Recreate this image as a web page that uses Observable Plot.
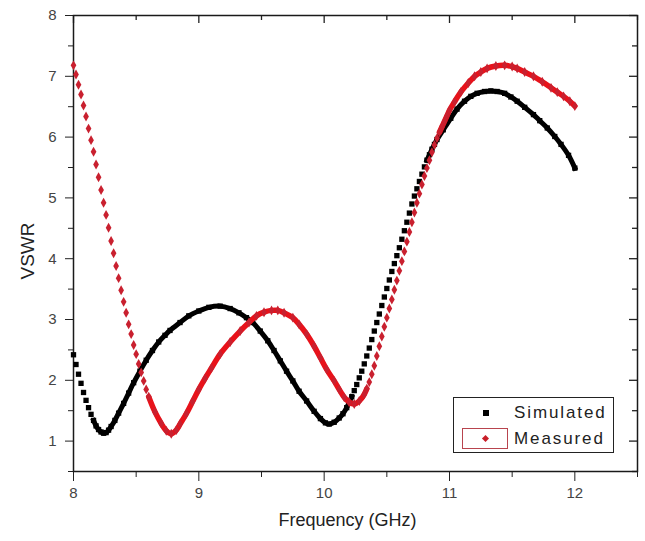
<!DOCTYPE html>
<html>
<head>
<meta charset="utf-8">
<script src="https://cdn.jsdelivr.net/npm/d3@7"></script>
<script src="https://cdn.jsdelivr.net/npm/@observablehq/plot@0.6"></script>
<style>
  html, body { margin: 0; padding: 0; background: #fff; }
  #wrap { position: relative; width: 645px; height: 541px; font-family: "Liberation Sans", Arial, sans-serif; }
  #legend { position: absolute; left: 453px; top: 397px; width: 161px; height: 56px; box-sizing: border-box;
            border: 1.5px solid #222; background: #fff; }
  .row { position: absolute; left: 0; height: 26px; width: 100%; }
  .lab { position: absolute; left: 60px; font-size: 17px; letter-spacing: 1.9px; color: #222; line-height: 26px; }
  .sq { position: absolute; left: 29px; top: 10px; width: 6px; height: 6px; background: #000; }
  .rbox { position: absolute; left: 8px; top: 2px; width: 46px; height: 21px; box-sizing: border-box; border: 1.3px solid #b8444e; }
  .dm { position: absolute; left: 29px; top: 10px; width: 5px; height: 5px; background: #c81e28; transform: rotate(45deg); }
</style>
</head>
<body>
<div id="wrap"></div>
<script>
// ---- data ----
const simFreq = [8.00,8.02,8.04,8.06,8.08,8.10,8.12,8.14,8.16,8.18,8.20,8.22,8.24,8.26,8.28,8.30,8.33,8.36,8.40,8.44,8.48,8.53,8.58,8.63,8.68,8.73,8.77,8.85,8.92,9.00,9.08,9.17,9.25,9.32,9.38,9.43,9.49,9.55,9.60,9.65,9.70,9.75,9.80,9.86,9.92,9.97,10.01,10.04,10.08,10.12,10.15,10.18,10.20,10.22,10.24,10.26,10.28,10.30,10.32,10.34,10.36,10.38,10.40,10.42,10.44,10.46,10.48,10.50,10.52,10.54,10.56,10.58,10.60,10.62,10.64,10.66,10.68,10.70,10.72,10.74,10.76,10.78,10.80,10.82,10.84,10.86,10.88,10.90,10.95,11.01,11.06,11.12,11.17,11.22,11.28,11.33,11.38,11.44,11.49,11.54,11.60,11.67,11.72,11.78,11.84,11.89,11.95,12.00];
const simVswr = [2.42,2.26,2.10,1.95,1.80,1.67,1.55,1.44,1.34,1.25,1.19,1.15,1.13,1.14,1.18,1.24,1.34,1.46,1.62,1.79,1.96,2.15,2.33,2.49,2.63,2.74,2.82,2.95,3.06,3.14,3.20,3.22,3.18,3.11,3.03,2.95,2.81,2.65,2.49,2.32,2.15,1.99,1.82,1.66,1.49,1.37,1.30,1.28,1.31,1.38,1.45,1.55,1.64,1.73,1.83,1.93,2.04,2.15,2.27,2.40,2.53,2.67,2.81,2.95,3.09,3.23,3.37,3.51,3.65,3.79,3.92,4.05,4.18,4.32,4.46,4.60,4.75,4.90,5.03,5.15,5.27,5.39,5.51,5.62,5.71,5.80,5.88,5.96,6.12,6.31,6.46,6.59,6.67,6.72,6.75,6.76,6.75,6.72,6.66,6.59,6.49,6.37,6.27,6.15,6.01,5.88,5.70,5.49];

const measFreq = [8.00,8.02,8.04,8.06,8.08,8.10,8.12,8.14,8.16,8.18,8.20,8.22,8.24,8.26,8.28,8.30,8.32,8.34,8.36,8.38,8.40,8.42,8.44,8.46,8.48,8.50,8.52,8.54,8.56,8.58,8.60,8.65,8.70,8.74,8.78,8.82,8.85,8.90,8.95,9.00,9.05,9.10,9.17,9.25,9.33,9.40,9.46,9.52,9.58,9.63,9.68,9.75,9.80,9.86,9.92,9.97,10.02,10.08,10.12,10.16,10.20,10.24,10.28,10.32,10.34,10.36,10.38,10.40,10.42,10.44,10.46,10.48,10.50,10.52,10.54,10.56,10.58,10.60,10.62,10.64,10.66,10.68,10.70,10.72,10.74,10.76,10.78,10.80,10.82,10.84,10.86,10.88,10.90,10.92,10.94,10.96,10.98,11.00,11.04,11.09,11.15,11.20,11.25,11.30,11.37,11.44,11.50,11.54,11.60,11.67,11.74,11.81,11.86,11.91,11.96,12.00];
const measVswr = [7.18,7.03,6.86,6.70,6.52,6.34,6.14,5.95,5.76,5.55,5.34,5.13,4.92,4.72,4.51,4.29,4.09,3.88,3.68,3.48,3.29,3.11,2.92,2.76,2.58,2.43,2.27,2.13,1.99,1.85,1.73,1.48,1.29,1.17,1.12,1.18,1.28,1.45,1.65,1.85,2.03,2.20,2.43,2.63,2.81,2.95,3.06,3.12,3.15,3.15,3.11,3.03,2.92,2.76,2.56,2.37,2.18,1.99,1.85,1.72,1.64,1.61,1.66,1.77,1.86,1.97,2.10,2.24,2.40,2.56,2.72,2.88,3.03,3.18,3.33,3.49,3.64,3.80,3.96,4.12,4.28,4.44,4.60,4.76,4.92,5.07,5.22,5.36,5.49,5.62,5.75,5.87,5.98,6.08,6.17,6.26,6.35,6.44,6.58,6.74,6.89,7.00,7.07,7.13,7.17,7.18,7.16,7.13,7.07,7.00,6.91,6.81,6.74,6.67,6.59,6.51];

const seriesNames = ["Simulated", "Measured"];
const xTicks = [8, 9, 10, 11, 12];
const xMinorTicks = [8.5, 9.5, 10.5, 11.5, 12.5];
const yTicks = [1, 2, 3, 4, 5, 6, 7, 8];
const yMinorTicks = [0.5, 1.5, 2.5, 3.5, 4.5, 5.5, 6.5, 7.5];
const xLabel = "Frequency (GHz)";
const yLabel = "VSWR";

// ---- build tables ----
const sim = simFreq.map((f, i) => ({x: f, y: simVswr[i]}));
const meas = measFreq.map((f, i) => ({x: f, y: measVswr[i]}));

const X0 = 8, X1 = 12.5, Y0 = 0.5, Y1 = 8;
const W = 645, H = 541, ML = 73, MR = 8, MT = 15, MB = 70;
const pxPerX = (W - ML - MR) / (X1 - X0);
const pxPerY = (H - MT - MB) / (Y1 - Y0);

// where the points are close together they merge into a solid band: draw a thick line there
function runs(rows) {
  const out = [];
  let seg = 0;
  for (let i = 0; i < rows.length; i++) {
    if (i > 0) {
      const dx = (rows[i].x - rows[i-1].x) * pxPerX;
      const dy = (rows[i].y - rows[i-1].y) * pxPerY;
      const gap = Math.hypot(dx, dy);
      const coarse = rows[i].x - rows[i-1].x > 0.025;
      if (!(coarse || gap < 6.2)) seg++;
    }
    out.push({...rows[i], seg});
  }
  const counts = d3.rollup(out, v => v.length, d => d.seg);
  return out.filter(d => counts.get(d.seg) > 1);
}
const simRuns = runs(sim);
const measRuns = runs(meas);

const blank = () => "";
const intFmt = d3.format("d");
const tickColor = "#222";
// inward tick lengths (in pixels) converted to data units
const inX = px => px / pxPerX;
const inY = px => px / pxPerY;

const chart = Plot.plot({
  width: W,
  height: H,
  marginLeft: ML,
  marginRight: MR,
  marginTop: MT,
  marginBottom: MB,
  style: {fontFamily: "'Liberation Sans', Arial, sans-serif", background: "#fff"},
  x: {domain: [X0, X1]},
  y: {domain: [Y0, Y1]},
  marks: [
    // outward ticks on left and bottom
    Plot.axisX(xTicks, {anchor: "bottom", tickSize: 10, tickPadding: 6, fontSize: 15, tickFormat: intFmt, color: "#444", stroke: tickColor, label: null}),
    Plot.axisX(xMinorTicks, {anchor: "bottom", tickSize: 6, tickFormat: blank, stroke: tickColor, label: null}),
    Plot.axisY(yTicks, {anchor: "left", tickSize: 8, tickPadding: 9, fontSize: 15, tickFormat: intFmt, color: "#444", stroke: tickColor, label: null}),
    Plot.axisY(yMinorTicks, {anchor: "left", tickSize: 5, tickFormat: blank, stroke: tickColor, label: null}),
    // inward ticks on top and right
    Plot.ruleX(xTicks, {x: d => d, y1: Y1, y2: Y1 - inY(8), stroke: tickColor, strokeWidth: 1.3}),
    Plot.ruleX(xMinorTicks, {x: d => d, y1: Y1, y2: Y1 - inY(5), stroke: tickColor, strokeWidth: 1.3}),
    Plot.ruleY(yTicks, {y: d => d, x1: X1, x2: X1 - inX(8), stroke: tickColor, strokeWidth: 1.3}),
    Plot.ruleY(yMinorTicks, {y: d => d, x1: X1, x2: X1 - inX(5), stroke: tickColor, strokeWidth: 1.3}),
    Plot.frame({stroke: "#1a1a1a", strokeWidth: 1.5}),
    Plot.text([yLabel], {frameAnchor: "left", dx: -46, dy: 36, rotate: -90, fontSize: 19, fill: "#222"}),
    Plot.text([xLabel], {frameAnchor: "bottom", dy: 54, dx: -8, fontSize: 18, fill: "#222", letterSpacing: "1px"}),
    // simulated
    Plot.line(simRuns, {x: "x", y: "y", z: "seg", stroke: "#000", strokeWidth: 5, curve: "catmull-rom", strokeLinecap: "square"}),
    Plot.dot(sim, {x: "x", y: "y", symbol: "square", r: 3.0, fill: "#000"}),
    // measured
    Plot.line(measRuns, {x: "x", y: "y", z: "seg", stroke: "#e8121a", strokeWidth: 5.5, curve: "catmull-rom", strokeLinecap: "round"}),
    Plot.dot(meas, {x: "x", y: "y", symbol: "diamond", r: 3.0, fill: "#c9202f"})
  ]
});

const wrap = document.getElementById("wrap");
wrap.appendChild(chart);

const legend = document.createElement("div");
legend.id = "legend";
legend.innerHTML =
  `<div class="row" style="top:2px"><div class="sq"></div><div class="lab">${seriesNames[0]}</div></div>` +
  `<div class="row" style="top:28px"><div class="rbox"></div><div class="dm"></div><div class="lab">${seriesNames[1]}</div></div>`;
wrap.appendChild(legend);
</script>
</body>
</html>
